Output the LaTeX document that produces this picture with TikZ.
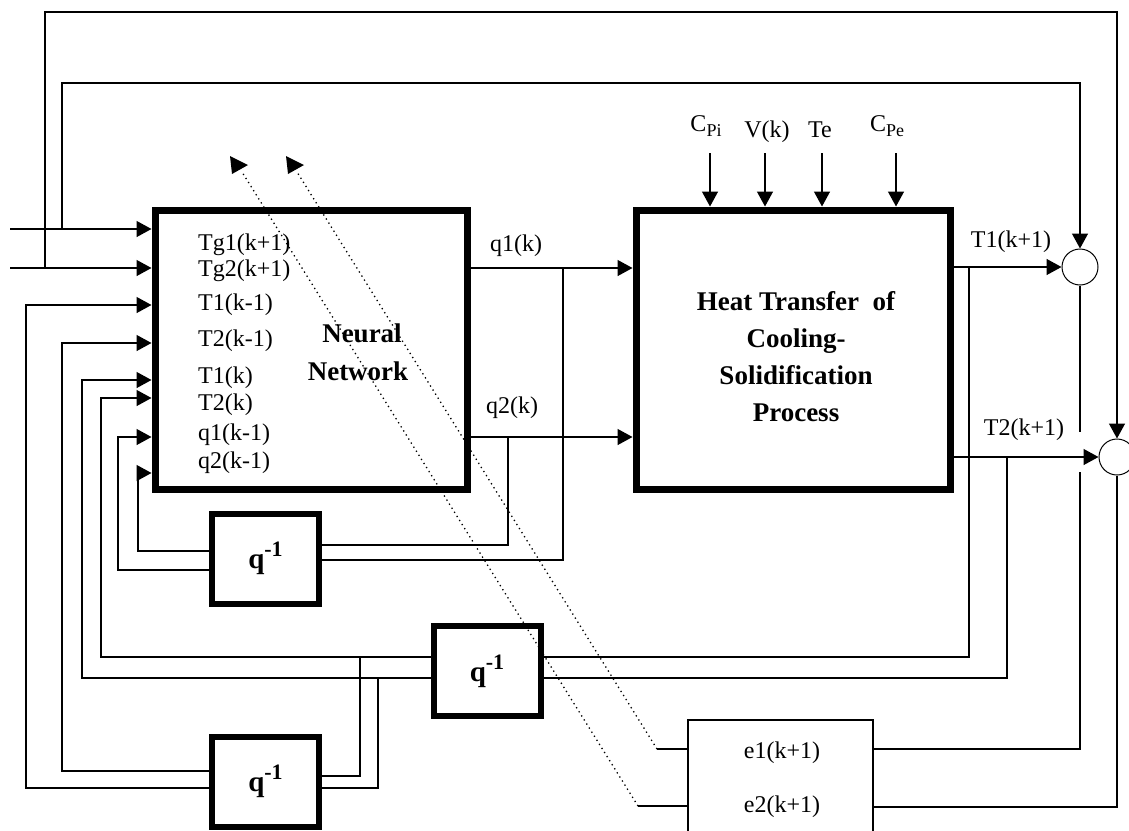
\documentclass[tikz,border=0pt]{standalone}
\usepackage{fontspec}
\setmainfont{Liberation Serif}
\usetikzlibrary{arrows.meta}
\newcommand\lblfont{\fontsize{24}{28}\selectfont}
\newcommand\bigfont{\fontsize{27}{37}\selectfont\bfseries}
\newcommand\qlabel{{\fontsize{29}{30}\selectfont\bfseries q\raisebox{12pt}{\fontsize{22}{24}\selectfont -1}}}
\newcommand\mysub[1]{\raisebox{-5pt}{\fontsize{18}{20}\selectfont #1}}
\begin{document}
\begin{tikzpicture}[x=1pt,y=-1pt,
  bigbox/.style={draw, line width=7pt, inner sep=0pt},
  qbox/.style={draw, line width=6pt, inner sep=0pt, minimum width=107pt, minimum height=90pt},
  wire/.style={line width=1.4pt},
  arr/.style={wire, -{Triangle[length=15pt,width=16pt]}},
  sumnode/.style={circle, draw, line width=1pt, minimum size=36pt, inner sep=0pt},
  lbl/.style={font=\lblfont, inner sep=0pt},
  dots/.style={line width=1.3pt, dash pattern=on 1.3pt off 3.5pt}
]
\fill[white] (0,0) rectangle (1129,830);
\clip (0,0) rectangle (1129,830);

% blocks
\node[bigbox, minimum width=312pt, minimum height=279pt] (nn) at (311,349.5) {};
\node[bigbox, minimum width=314pt, minimum height=279pt] (ht) at (793,349.5) {};
\node[qbox] (qa) at (265.5,558.5) {\qlabel};
\node[qbox] (qb) at (487,671) {\qlabel};
\node[qbox] (qc) at (265.5,781.5) {\qlabel};
\node[draw, line width=1.4pt, minimum width=185pt, minimum height=120pt, inner sep=0pt] (eb) at (780.5,780) {};
\node[sumnode] (s1) at (1080,267) {};
\node[sumnode] (s2) at (1117,457) {};

% texts in NN
\node[lbl, anchor=base west] (t1) at (198,250.5) {Tg1(k+1)};
\node[lbl, anchor=base west] (t2) at (198,276.5) {Tg2(k+1)};
\node[lbl, anchor=base west] (t3) at (198,310) {T1(k-1)};
\node[lbl, anchor=base west] (t4) at (198,346.5) {T2(k-1)};
\node[lbl, anchor=base west] (t5) at (198,383) {T1(k)};
\node[lbl, anchor=base west] (t6) at (198,410) {T2(k)};
\node[lbl, anchor=base west] (t7) at (198,440) {q1(k-1)};
\node[lbl, anchor=base west] (t8) at (198,468) {q2(k-1)};
\node[font=\bigfont, inner sep=0pt, anchor=base] (nn1) at (362,342) {Neural};
\node[font=\bigfont, inner sep=0pt, anchor=base] (nn2) at (358,380) {Network};

% heat text
\node[font=\bigfont, inner sep=0pt, align=center, anchor=north] (htt) at (796,291) {Heat Transfer\ \ of\\Cooling-\\Solidification\\Process};

% other labels
\node[lbl, anchor=base] (lq1) at (516,251) {q1(k)};
\node[lbl, anchor=base] (lq2) at (512,413) {q2(k)};
\node[lbl, anchor=base] (lT1) at (1011,247) {T1(k+1)};
\node[lbl, anchor=base] (lT2) at (1024,435) {T2(k+1)};
\node[lbl, anchor=base] (le1) at (782,758) {e1(k+1)};
\node[lbl, anchor=base] (le2) at (782,812) {e2(k+1)};
\node[lbl, anchor=base] (cpi) at (706,131) {C\mysub{Pi}};
\node[lbl, anchor=base] (vk) at (767,137) {V(k)};
\node[lbl, anchor=base] (te) at (820,137) {Te};
\node[lbl, anchor=base] (cpe) at (887,131) {C\mysub{Pe}};

% top inputs to heat block
\draw[arr] (710,153) -- (ht.north -| 710,0);
\draw[arr] (765,153) -- (ht.north -| 765,0);
\draw[arr] (822,153) -- (ht.north -| 822,0);
\draw[arr] (896,153) -- (ht.north -| 896,0);

% reference inputs and top loops
\coordinate (i1) at (10,229);
\coordinate (i2) at (10,268);
\coordinate (L1) at (45,12);
\coordinate (L2) at (62,83);
\draw[arr] (i1) -- (i1 -| nn.west);
\draw[arr] (i2) -- (i2 -| nn.west);
\draw[arr] (i2 -| L1) -- (L1) -| (s2.north);
\draw[arr] (i1 -| L2) -- (L2) -| (s1.north);

% feedback inputs into NN
\draw[arr] (qc.west |- 0,788) -| (26,305) -- (nn.west |- 0,305);
\draw[arr] (qc.west |- 0,771) -| (62,343) -- (nn.west |- 0,343);
\draw[arr] (qb.west |- 0,678) -| (82,380) -- (nn.west |- 0,380);
\draw[arr] (qb.west |- 0,657) -| (101,398) -- (nn.west |- 0,398);
\draw[arr] (qa.west |- 0,570) -| (118,437) -- (nn.west |- 0,437);
\draw[arr] (qa.west |- 0,551) -| (138,473) -- (nn.west |- 0,473);

% NN outputs
\draw[arr] (nn.east |- 0,268) -- (ht.west |- 0,268);
\draw[arr] (nn.east |- 0,437) -- (ht.west |- 0,437);
\draw[wire] (563,268) |- (qa.east |- 0,560);
\draw[wire] (508,437) |- (qa.east |- 0,545);

% process outputs
\draw[arr] (ht.east |- s1) -- (s1.west);
\draw[arr] (ht.east |- s2) -- (s2.west);
\draw[wire] (969,267) |- (qb.east |- 0,657);
\draw[wire] (1007,457) |- (qb.east |- 0,678);
\draw[wire] (360,657) |- (qc.east |- 0,776);
\draw[wire] (378,678) |- (qc.east |- 0,788);

% comparator outputs to error box
\coordinate (g1) at (1080,432);
\coordinate (g2) at (1080,472);
\draw[wire] (s1.south) -- (g1);
\draw[wire] (g2) |- (eb.east |- 0,749);
\draw[wire] (s2.south) |- (eb.east |- 0,807);

% dotted feedback of errors
\coordinate (d1) at (657,749);
\coordinate (d2) at (638,806);
\coordinate (u1) at (297,172);
\coordinate (u2) at (242,172);
\draw[wire] (eb.west |- d1) -- (d1);
\draw[dots] (d1) -- (u1);
\fill (286,156) -- (304,165) -- (288,174) -- cycle;
\draw[wire] (eb.west |- d2) -- (d2);
\draw[dots] (d2) -- (u2);
\fill (230,156) -- (248,165) -- (232,174) -- cycle;
\end{tikzpicture}
\end{document}
